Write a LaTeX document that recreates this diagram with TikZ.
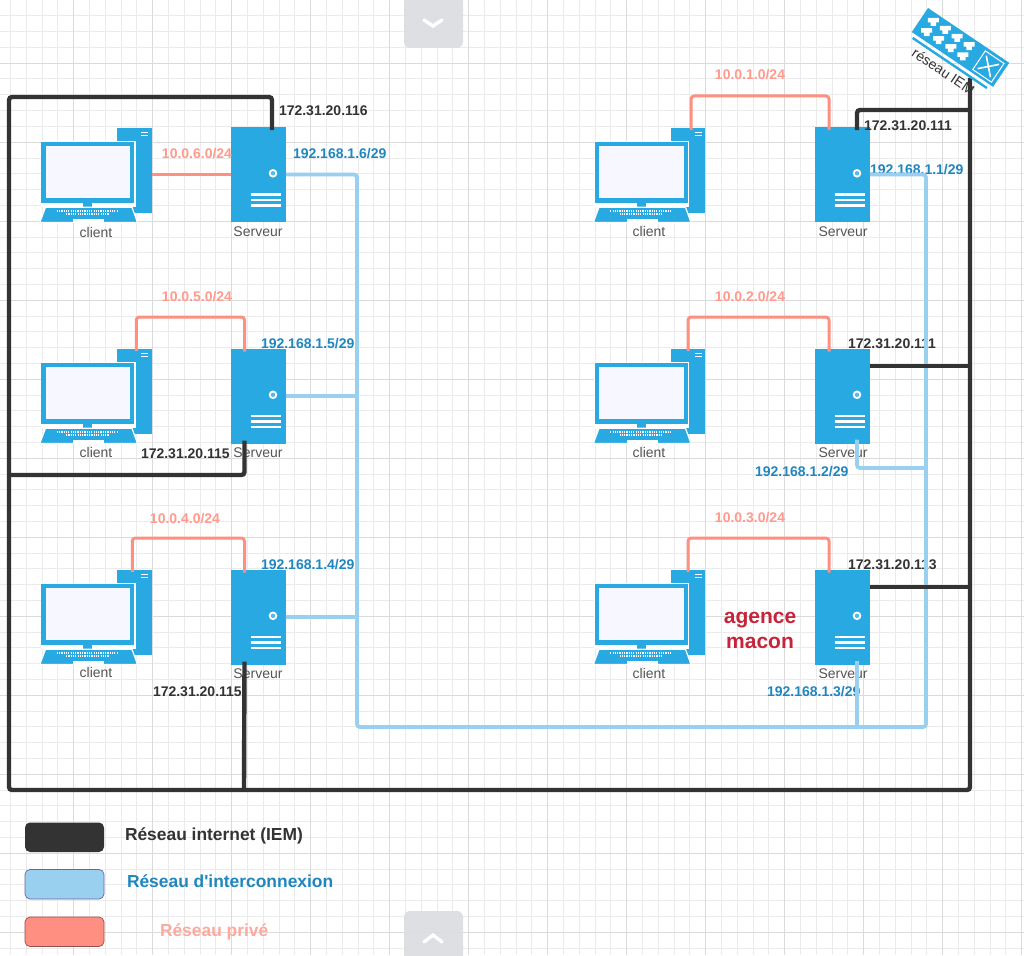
\documentclass[tikz,border=0pt]{standalone}
\usepackage{fontspec}
\setmainfont{Liberation Sans}
\newfontfamily\rawfont{Liberation Sans}
\definecolor{netblue}{HTML}{29A9E1}
\definecolor{wireblue}{HTML}{99D0F0}
\definecolor{wirered}{HTML}{FF8F80}
\definecolor{wireblack}{HTML}{333333}
\definecolor{txtblue}{HTML}{1F86BF}
\definecolor{txtred}{HTML}{FF9A8D}
\definecolor{txtgrey}{HTML}{555555}
\definecolor{agence}{HTML}{C7243A}
\definecolor{btngrey}{HTML}{DCDDE0}
\tikzset{
  every node/.style={inner sep=0pt,outer sep=0pt},
  blackwire/.style={draw=wireblack,line width=4.4pt,rounded corners=3pt},
  bluewire/.style={draw=wireblue,line width=3.8pt,rounded corners=3pt},
  redwire/.style={draw=wirered,line width=3pt,rounded corners=3pt},
  iplabel/.style={font=\bfseries\fontsize{14}{16}\selectfont,anchor=west,yshift=-1pt},
  ipblack/.style={iplabel,text=wireblack},
  ipblue/.style={iplabel,text=txtblue},
  ipred/.style={font=\bfseries\fontsize{14}{16}\selectfont,text=txtred,yshift=-1pt},
  iconlabel/.style={font=\fontsize{14}{16}\selectfont,text=txtgrey},
  legendbox/.style={rounded corners=5pt,minimum width=79pt,minimum height=29.5pt,line width=.7pt},
  legendtxt/.style={font=\bfseries\fontsize{17.4}{20}\selectfont,anchor=west},
  btn/.style={fill=btngrey,rounded corners=6pt,fill opacity=.92},
  chevron/.style={draw=white,line width=3.4pt,line cap=round},
  serverpic/.pic={
    \node[fill=netblue,minimum width=55pt,minimum height=95pt,anchor=north west] (-box) at (0,0) {};
    \fill[white] (42,46.3) circle (4.3pt);
    \fill[netblue!80!white] (42,46.3) circle (2.2pt);
    \foreach \yy in {67.5,73,78.5}
      \draw[white,line width=2.3pt] (19.5,\yy) -- (50,\yy);
  },
  clientpic/.pic={
    \node[fill=netblue,minimum width=34.5pt,minimum height=84.5pt,anchor=north west] (-tower) at (76,-14) {};
    \draw[white,line width=1.3pt] (100,-9.5) -- (107,-9.5) (100,-6.3) -- (107,-6.3);
    \fill[white] (-0.3,-1.2) rectangle (94.5,65);
    \node[fill=netblue,minimum width=93pt,minimum height=60.5pt,anchor=north west] (-screen) at (0,0) {};
    \fill[white!97!blue] (4.5,4) rectangle (89,56);
    \fill[netblue] (42,60.5) rectangle (51,65);
    \draw[white,line width=1.2pt,fill=netblue] (4.5,65.3) -- (91,65.3) -- (96.5,80.5) -- (-1.2,80.5) -- cycle;
    \fill[white] (32,77) rectangle (63,80);
    \draw[white,line width=1.7pt,dash pattern=on 1.2pt off 1.1pt] (15.7,68.7) -- (76,68.7);
    \draw[white,line width=1.7pt,dash pattern=on 1.2pt off 1.1pt] (25,72.2) -- (68,72.2);
  },
  portshape/.pic={
    \fill[white] (-5.5,-3) -- (5.5,-3) -- (5.5,1.5) -- (2.8,1.5) -- (2.8,5) -- (-2.8,5) -- (-2.8,1.5) -- (-5.5,1.5) -- cycle;
  }
}
\begin{document}
\begin{tikzpicture}[x=1pt,y=-1pt]
\useasboundingbox (0,0) rectangle (1024,955);
\fill[white] (0,0) rectangle (1024,955);
% grid
\foreach \k in {0,...,65} {
  \pgfmathsetmacro{\gx}{-5.5+15.8*\k}
  \pgfmathsetmacro{\gy}{-0.2+15.8*\k}
  \draw[black!8,line width=.6pt] (\gx,0) -- (\gx,955);
  \draw[black!8,line width=.6pt] (0,\gy) -- (1024,\gy);
}
\foreach \k in {0,...,13} {
  \pgfmathsetmacro{\gx}{-5.5+79*\k}
  \pgfmathsetmacro{\gy}{-16+79*\k}
  \draw[black!14,line width=.9pt] (\gx,0) -- (\gx,955);
  \draw[black!14,line width=.9pt] (0,\gy) -- (1024,\gy);
}
% servers
\pic (sa) at (231,127) {serverpic};
\pic (sb) at (231,348.5) {serverpic};
\pic (sc) at (231,569.5) {serverpic};
\pic (sd) at (815,127) {serverpic};
\pic (se) at (815,348.5) {serverpic};
\pic (sf) at (815,569.5) {serverpic};
% clients
\pic (ca) at (41,142) {clientpic};
\pic (cb) at (41,363) {clientpic};
\pic (cc) at (41,584) {clientpic};
\pic (cd) at (594.5,142) {clientpic};
\pic (ce) at (594.5,363) {clientpic};
\pic (cf) at (594.5,584) {clientpic};
% labels
\node[iconlabel] (la) at (96,232) {client};
\node[iconlabel] (lb) at (96,452) {client};
\node[iconlabel] (lc) at (96,672) {client};
\node[iconlabel] (ld) at (649,231) {client};
\node[iconlabel] (le) at (649,452) {client};
\node[iconlabel] (lf) at (649,673) {client};
\node[iconlabel] (ma) at (258,232) {Serveur};
\node[iconlabel] (mb) at (258,453) {Serveur};
\node[iconlabel] (mc) at (258,674) {Serveur};
\node[iconlabel] (md) at (843,232) {Serveur};
\node[iconlabel] (me) at (843,453) {Serveur};
\node[iconlabel] (mf) at (843,674) {Serveur};
\node[ipred] (ra) at (197,153) {10.0.6.0/24};
\node[ipred] (rb) at (197,296) {10.0.5.0/24};
\node[ipred] (rc) at (185,518) {10.0.4.0/24};
\node[ipred] (rd) at (750,74) {10.0.1.0/24};
\node[ipred] (re) at (750,296) {10.0.2.0/24};
\node[ipred] (rf) at (750,517) {10.0.3.0/24};
\node[ipblack] (ka) at (279,110) {172.31.20.116};
\node[ipblack] (kb) at (141,453) {172.31.20.115};
\node[ipblack] (kc) at (153,691) {172.31.20.115};
\node[ipblack] (kd) at (864,125) {172.31.20.111};
\node[ipblack] (ke) at (848,343) {172.31.20.111};
\node[ipblack] (kf) at (848,564) {172.31.20.113};
\node[ipblue] (ba) at (293,153) {192.168.1.6/29};
\node[ipblue] (bb) at (261,343) {192.168.1.5/29};
\node[ipblue] (bc) at (261,564) {192.168.1.4/29};
\node[ipblue] (bd) at (870,169) {192.168.1.1/29};
\node[ipblue] (be) at (755,471) {192.168.1.2/29};
\node[ipblue] (bf) at (767,691) {192.168.1.3/29};
\node[font=\bfseries\fontsize{21}{25}\selectfont,text=agence,align=center] (ag) at (760,630) {agence\\macon};
% corner coordinates
\coordinate (tl) at (9,97);
\coordinate (bl) at (9,790);
\coordinate (br) at (970,790);
\coordinate (swfoot) at (970,78);
\coordinate (ml) at (9,475);
\coordinate (bt) at (357,174.5);
\coordinate (bb2) at (357,727);
\coordinate (bb3) at (926,727);
\coordinate (bt2) at (926,174.5);
% red wires
\draw[redwire] (ca-tower.east |- sa-box.east) -- (sa-box.west);
\draw[redwire] ([xshift=2pt,yshift=-2pt]cb-tower.north) |- (236,317) -| ([xshift=-14pt,yshift=-3pt]sb-box.north);
\draw[redwire] ([xshift=-2pt,yshift=-2pt]cc-tower.north) |- (236,538) -| ([xshift=-14pt,yshift=-3pt]sc-box.north);
\draw[redwire] ([xshift=3.3pt,yshift=-2pt]cd-tower.north) |- (820,96) -| ([xshift=-13.5pt,yshift=-3pt]sd-box.north);
\draw[redwire] ([xshift=.3pt,yshift=-2pt]ce-tower.north) |- (820,317) -| ([xshift=-13.5pt,yshift=-3pt]se-box.north);
\draw[redwire] ([xshift=.3pt,yshift=-2pt]cf-tower.north) |- (820,538) -| ([xshift=-13.5pt,yshift=-3pt]sf-box.north);
% blue wires
\draw[bluewire] (sa-box.east) -- (bt) -- (bb2) -- (bb3) -- (bt2) -- (sd-box.east);
\draw[bluewire] (sb-box.east) -- (357,396);
\draw[bluewire] (sc-box.east) -- (357,617);
\draw[bluewire] ([xshift=14.5pt,yshift=4pt]se-box.south) |- (926,468);
\draw[bluewire] ([xshift=14.5pt,yshift=4pt]sf-box.south) -- (857,727);
% black wires
\draw[blackwire] ([xshift=13.5pt,yshift=-3pt]sa-box.north) |- (tl) -- (bl) -- (br) -- (swfoot);
\draw[blackwire] ([xshift=-14pt,yshift=3pt]sb-box.south) |- (ml);
\draw[blackwire] ([xshift=-14pt,yshift=3pt]sc-box.south) -- (244,790);
\draw[blackwire] ([xshift=14.5pt,yshift=-3pt]sd-box.north) |- (970,110);
\draw[blackwire] (se-box.east |- 0,366) -- (970,366);
\draw[blackwire] (sf-box.east |- 0,587) -- (970,587);
% switch
\begin{scope}[shift={(928,8)},rotate=-34]
  \node[fill=netblue,minimum width=98pt,minimum height=29pt,transform shape] (sw) at (49,14.5) {};
  \draw[netblue,line width=2.4pt] (4,33.4) -- (93.6,33.4);
  \foreach \u/\v in {11.7/7.7,26/7.7,40.4/7.7,54.8/7.7,11.8/19.8,26.2/19.8,40.8/19.8,55.4/19.8}
    \pic at (\u,\v) {portshape};
  \draw[white,line width=1pt] (71.5,3.5) rectangle (94,26);
  \draw[white,line width=1.6pt] (75,7) -- (90.5,22.5) (90.5,7) -- (75,22.5);
\end{scope}
\node[font=\fontsize{14}{16}\selectfont,text=wireblack,rotate=-34] (swl) at (943.5,71.5) {réseau IEM};
% legend
\node[legendbox,fill=wireblack,anchor=north west] (lega) at (25,822.5) {};
\node[legendbox,fill=wireblue,draw=black!60!blue!60,anchor=north west] (legb) at (25,869.5) {};
\node[legendbox,fill=wirered,draw=black!60!red!70,anchor=north west] (legc) at (25,917) {};
\node[legendtxt,text=wireblack] (txa) at (125,835.5) {Réseau internet (IEM)};
\node[legendtxt,text=txtblue] (txb) at (127,881) {{\rawfont Réseau d'interconnexion}};
\node[legendtxt,text=txtred!85!white] (txc) at (160,931.5) {Réseau privé};
% scroll buttons
\fill[btn] (404,-10) rectangle (463,48);
\fill[btn] (404,911) rectangle (463,965);
\draw[chevron] (424,20) -- (433,26) -- (442,20);
\draw[chevron] (424,942) -- (433,935) -- (442,942);
\end{tikzpicture}
\end{document}
